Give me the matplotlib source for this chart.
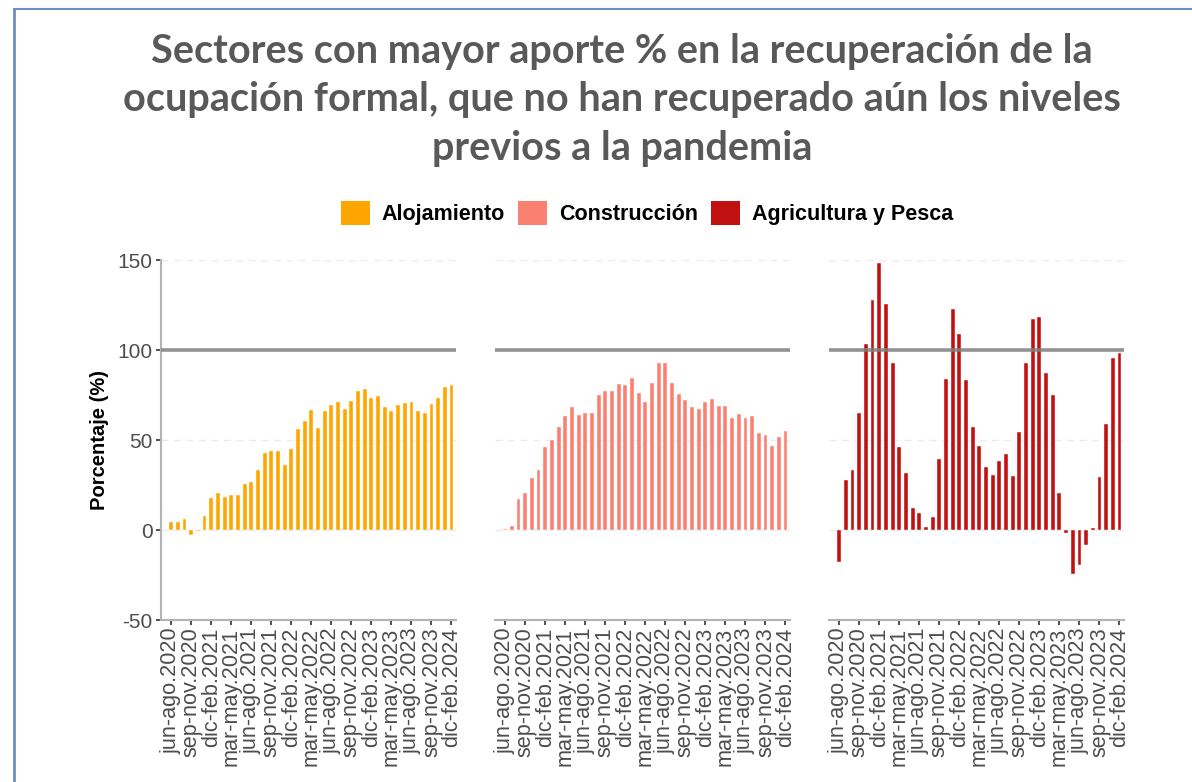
import matplotlib.pyplot as plt
from matplotlib.patches import Patch
from matplotlib.lines import Line2D

periodos = []
meses = ['jun-ago', 'jul-sep', 'ago-oct', 'sep-nov', 'oct-dic', 'nov-ene',
         'dic-feb', 'ene-mar', 'feb-abr', 'mar-may', 'abr-jun', 'may-jul']
for anio in range(2020, 2024):
    for i, m in enumerate(meses):
        a = anio if i < 6 else anio + 1
        periodos.append(f'{m}.{a}')
periodos = periodos[:43]

alojamiento = [4.2, 4.2, 6.0, -2.8, -0.3, 8.0, 18.0, 20.5, 18.3, 19.2, 19.2,
               25.3, 26.8, 33.4, 42.6, 43.9, 43.9, 36.3, 45.0, 56.3, 60.3,
               66.8, 56.8, 66.2, 69.2, 71.2, 67.3, 71.4, 77.1, 78.4, 73.6,
               74.2, 68.3, 66.2, 69.2, 70.3, 71.0, 66.2, 65.1, 70.1, 73.6,
               79.2, 80.4]
construccion = [0.5, 2.0, 17.0, 20.8, 29.0, 33.6, 46.0, 50.0, 57.4, 63.1, 68.1,
                63.8, 65.1, 64.8, 75.1, 77.3, 77.1, 81.0, 80.8, 84.5, 76.2,
                71.0, 81.4, 92.6, 92.6, 81.5, 75.6, 72.3, 68.6, 67.0, 71.0,
                72.7, 68.8, 68.8, 62.2, 64.2, 62.4, 63.5, 53.7, 52.8, 46.9,
                51.5, 55.0]
agricultura = [-17.7, 27.9, 33.6, 64.8, 103.3, 127.9, 148.2, 125.3, 92.6, 46.1,
               31.9, 12.4, 9.6, 1.5, 7.0, 39.5, 84.0, 123.0, 108.7, 83.6, 57.4,
               46.7, 35.2, 30.8, 38.4, 42.3, 29.9, 54.4, 92.6, 117.5, 118.1,
               87.1, 74.9, 20.8, -1.7, -24.4, -19.7, -8.3, 0.9, 29.2, 58.7,
               95.6, 98.3]

sectores = ['Alojamiento', 'Construcción', 'Agricultura y Pesca']
series = [alojamiento, construccion, agricultura]
colores = ['#FFA500', '#FA8072', '#C01010']

fig = plt.figure(figsize=(11.92, 7.82), dpi=100)
W, H = 1192, 782

# borde tipo diapositiva
fig.add_artist(Line2D([14 / W, 14 / W], [0, 1 - 9 / H], color='#6f8fbf', lw=2))
fig.add_artist(Line2D([14 / W, 1], [1 - 9 / H, 1 - 9 / H], color='#6f8fbf', lw=1.5))

fig.text(622 / W, 1 - 100 / H,
         'Sectores con mayor aporte % en la recuperación de la\n'
         'ocupación formal, que no han recuperado aún los niveles\n'
         'previos a la pandemia',
         ha='center', va='center', fontsize=28.5, fontweight='bold',
         color='#595959', family='Lato', linespacing=1.38)

lefts = [160.5, 494.5, 828.5]
x = list(range(len(periodos)))
for k in range(3):
    ax = fig.add_axes([lefts[k] / W, (H - 620) / H, 295 / W, 360 / H])
    ax.bar(x, series[k], width=0.58, color=colores[k], edgecolor='white',
           linewidth=0.3, zorder=2)
    ax.axhline(100, color='#7f7f7f', lw=2.6, alpha=0.85, zorder=3)
    for g in [-50, 0, 50, 150]:
        ax.axhline(g, color='#ebebeb', lw=1, ls=(0, (5, 4)), zorder=1)
    ax.set_xlim(-1.6, 42.6)
    ax.set_ylim(-50, 150)
    ax.set_xticks(x[::3])
    ax.set_xticklabels(periodos[::3], rotation=90, fontsize=15.6,
                       color='#4d4d4d', family='Liberation Sans')
    ax.tick_params(axis='x', length=3.5, width=1.2, color='#333333', pad=2)
    for s in ['top', 'right']:
        ax.spines[s].set_visible(False)
    ax.spines['bottom'].set_color('#b3b3b3')
    ax.spines['bottom'].set_linewidth(1.5)
    if k == 0:
        ax.set_yticks([-50, 0, 50, 100, 150])
        ax.set_yticklabels(['-50', '0', '50', '100', '150'], fontsize=15,
                           color='#4d4d4d', family='Liberation Sans')
        ax.tick_params(axis='y', length=3.5, width=1.2, color='#333333', pad=2)
        ax.spines['left'].set_color('#b3b3b3')
        ax.spines['left'].set_linewidth(1.5)
        ax.set_ylabel('Porcentaje (%)', fontsize=14.5, fontweight='bold',
                      family='Liberation Sans', labelpad=6)
    else:
        ax.set_yticks([])
        ax.spines['left'].set_visible(False)
    ax.set_facecolor('none')

handles = [Patch(facecolor=c, edgecolor='none') for c in colores]
fig.legend(handles, sectores, loc='center', ncol=3,
           bbox_to_anchor=(647 / W, 1 - 213 / H), frameon=False,
           prop={'family': 'Liberation Sans', 'weight': 'bold', 'size': 15.5},
           handlelength=1.35, handleheight=1.35, handletextpad=0.55,
           columnspacing=0.6)

fig.savefig('out.png', dpi=100)
